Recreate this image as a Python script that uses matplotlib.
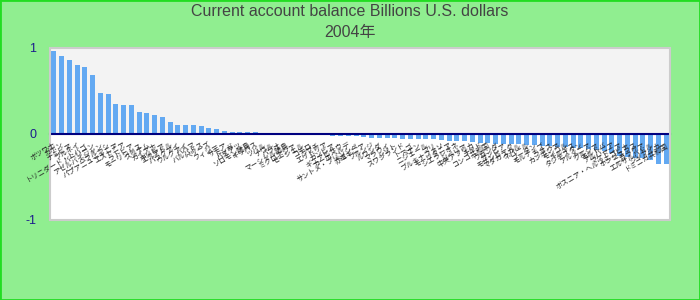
import matplotlib
matplotlib.use("Agg")
import matplotlib.pyplot as plt
import numpy as np

plt.rcParams['font.family'] = ['Liberation Sans', 'Noto Sans CJK JP', 'DejaVu Sans']

title = "Current account balance Billions U.S. dollars\n2004年"

countries = [
    "ボツワナ", "ガボン", "ナミビア", "ブルネイ", "トリニダード・トバゴ", "バーレーン",
    "アゼルバイジャン", "ベラルーシ", "パプアニューギニア", "エストニア", "ラトビア", "モーリシャス",
    "スリナム", "ガイアナ", "ボリビア", "エクアドル", "パラグアイ", "ウルグアイ",
    "バハマ", "バルバドス", "ベリーズ", "フィジー", "サモア", "トンガ",
    "バヌアツ", "ソロモン諸島", "キリバス", "ツバル", "ナウル", "パラオ",
    "マーシャル諸島", "ミクロネシア", "セーシェル", "コモロ", "ジブチ", "エリトリア",
    "ガンビア", "ギニアビサウ", "カーボベルデ", "サントメ・プリンシペ", "赤道ギニア", "ブルンジ",
    "ルワンダ", "マラウイ", "レソト", "スワジランド", "トーゴ", "ベナン",
    "ニジェール", "マリ", "ブルキナファソ", "モーリタニア", "シエラレオネ", "リベリア",
    "中央アフリカ", "チャド", "コンゴ共和国", "ウガンダ", "ザンビア", "モザンビーク",
    "マダガスカル", "ネパール", "ブータン", "モルディブ", "ラオス", "カンボジア",
    "モンゴル", "キルギス", "タジキスタン", "アルメニア", "グルジア", "モルドバ",
    "アルバニア", "マケドニア", "ボスニア・ヘルツェゴビナ", "ホンジュラス", "ニカラグア", "エルサルバドル",
    "ジャマイカ", "ドミニカ共和国",
]

values = [
    0.965, 0.907, 0.860, 0.802, 0.779, 0.686, 0.477, 0.465, 0.349, 0.337,
    0.337, 0.256, 0.244, 0.221, 0.198, 0.140, 0.109, 0.109, 0.100, 0.089,
    0.074, 0.062, 0.039, 0.027, 0.027, 0.027, 0.027, 0.015, 0.004, 0.002,
    -0.002, -0.004, -0.016, -0.016, -0.016, -0.016, -0.027, -0.027, -0.027, -0.027,
    -0.039, -0.050, -0.050, -0.050, -0.050, -0.062, -0.062, -0.062, -0.062, -0.062,
    -0.074, -0.085, -0.085, -0.085, -0.097, -0.109, -0.109, -0.120, -0.120, -0.120,
    -0.120, -0.130, -0.130, -0.140, -0.140, -0.150, -0.150, -0.160, -0.163, -0.170,
    -0.190, -0.200, -0.220, -0.250, -0.270, -0.280, -0.280, -0.300, -0.345, -0.345,
]

fig = plt.figure(figsize=(7, 3), dpi=100, facecolor='#90ee90')
fig.patches.append(plt.Rectangle((0, 0), 1, 1, transform=fig.transFigure,
                                 fill=False, edgecolor='#22dd22', linewidth=2))
ax = fig.add_axes([50 / 700, 80 / 300, 620 / 700, 172 / 300])
ax.set_facecolor('white')

x = np.arange(len(values))
ax.axhspan(0, 1, color='#f3f3f3', zorder=0)
ax.bar(x, values, width=0.65, color='#63a9f2', zorder=1.5)

ax.set_xlim(-0.5, len(values) - 0.5)
ax.set_ylim(-1, 1)
ax.set_yticks([-1, 0, 1])
ax.set_yticklabels(['-1', '0', '1'], color='#1c1c8c', fontsize=9)
ax.tick_params(axis='y', length=0, pad=10)

# category axis sits on the zero line, labels hang below it over the bars
ax.spines['bottom'].set_position(('data', 0))
ax.spines['bottom'].set_color('#000080')
ax.spines['bottom'].set_linewidth(1.5)
ax.spines['bottom'].set_zorder(3)
ax.set_xticks(x)
ax.set_xticklabels(countries, rotation=30, ha='right', rotation_mode='anchor',
                   fontsize=5, color='#222222',
                   family=['Noto Sans CJK JP', 'DejaVu Sans'])
ax.tick_params(axis='x', length=0, pad=5)
ax.xaxis.set_zorder(5)

for name in ['top', 'left', 'right']:
    ax.spines[name].set_visible(False)
ax.add_patch(plt.Rectangle((0, 0), 1, 1, transform=ax.transAxes, fill=False,
                           edgecolor='#cccccc', linewidth=1.5, zorder=4,
                           clip_on=False))

fig.suptitle(title, y=0.985, fontsize=11.5, color='#444444', linespacing=1.5)

fig.savefig('out.png', dpi=100, facecolor=fig.get_facecolor())
